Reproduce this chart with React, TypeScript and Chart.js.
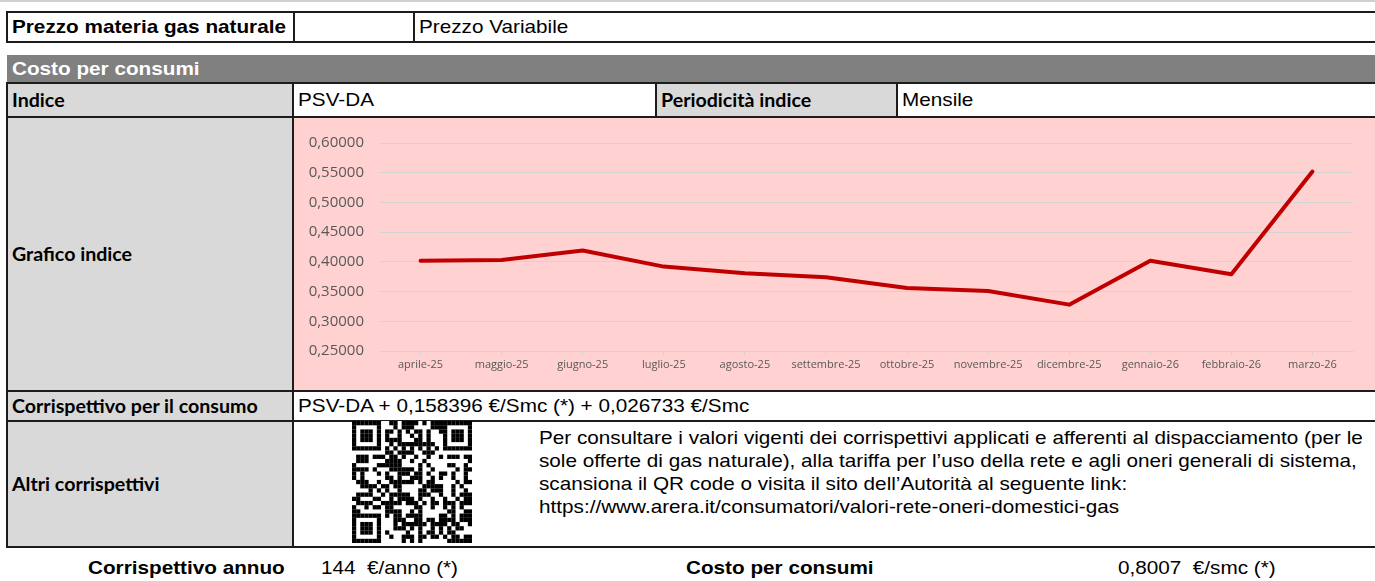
import React, { useEffect, useRef } from "react";
import { Chart, registerables } from "chart.js";

Chart.register(...registerables);

const categories = [
  "aprile-25", "maggio-25", "giugno-25", "luglio-25", "agosto-25", "settembre-25",
  "ottobre-25", "novembre-25", "dicembre-25", "gennaio-26", "febbraio-26", "marzo-26",
];
const psvValues = [0.402, 0.403, 0.419, 0.392, 0.381, 0.374, 0.356, 0.351, 0.328, 0.402, 0.379, 0.552];
const yMin = 0.25;
const yMax = 0.6;
const yStep = 0.05;

const infoLines = [
  "Per consultare i valori vigenti dei corrispettivi applicati e afferenti al dispacciamento (per le",
  "sole offerte di gas naturale), alla tariffa per l’uso della rete e agli oneri generali di sistema,",
  "scansiona il QR code o visita il sito dell’Autorità al seguente link:",
  "https://www.arera.it/consumatori/valori-rete-oneri-domestici-gas",
];

const ARIAL = "'Liberation Sans', Arial, sans-serif";
const CALIBRI = "Lato, 'Open Sans', sans-serif";
const GRAY = "#d9d9d9";
const PINK = "#ffd1d1";
const SX = 1.09;

function IndexChart() {
  const ref = useRef<HTMLCanvasElement | null>(null);
  useEffect(() => {
    if (!ref.current) return;
    const chart = new Chart(ref.current, {
      type: "line",
      data: {
        labels: categories,
        datasets: [
          {
            data: psvValues,
            borderColor: "#c00000",
            borderWidth: 4,
            pointRadius: 0,
            tension: 0,
            borderCapStyle: "round",
            borderJoinStyle: "round",
            fill: false,
          },
        ],
      },
      options: {
        animation: false,
        responsive: true,
        maintainAspectRatio: false,
        layout: { padding: { top: 24, right: 22, left: 0, bottom: 0 } },
        plugins: { legend: { display: false }, tooltip: { enabled: false } },
        scales: {
          x: {
            offset: true,
            grid: { display: true, drawOnChartArea: false, drawTicks: true, tickLength: 4, color: "#d4d4d4" },
            border: { display: true, color: "#d4d4d4", width: 1 },
            ticks: {
              color: "#595959",
              font: { family: "'Open Sans'", size: 11 },
              padding: 3,
              maxRotation: 0,
              autoSkip: false,
            },
            afterFit: (s: any) => { s.height = 39; },
          },
          y: {
            min: yMin,
            max: yMax,
            grid: { color: "#d4d4d4", drawTicks: false, lineWidth: 1 },
            border: { display: false },
            ticks: {
              stepSize: yStep,
              color: "#595959",
              font: { family: "'Open Sans'", size: 15 },
              padding: 16,
              callback: (v: any) => Number(v).toFixed(5).replace(".", ","),
            },
            afterFit: (s: any) => { s.width = 86; },
          },
        },
      },
    });
    return () => chart.destroy();
  }, []);
  return <canvas ref={ref} />;
}

function QR() {
  const n = 29;
  const cells: React.ReactElement[] = [];
  const finder = (r: number, c: number, or: number, oc: number) => {
    const rr = r - or, cc = c - oc;
    if (rr < 0 || rr > 6 || cc < 0 || cc > 6) return null;
    if (rr === 0 || rr === 6 || cc === 0 || cc === 6) return true;
    if (rr >= 2 && rr <= 4 && cc >= 2 && cc <= 4) return true;
    return false;
  };
  for (let r = 0; r < n; r++) {
    for (let c = 0; c < n; c++) {
      let on: boolean | null = null;
      for (const [or, oc] of [[0, 0], [0, n - 7], [n - 7, 0]]) {
        const f = finder(r, c, or, oc);
        if (f !== null) on = f;
      }
      if (on === null) {
        if ((r === 7 && (c < 8 || c > n - 9)) || (c === 7 && (r < 8 || r > n - 9))) on = false;
        else if (r === 6 || c === 6) on = (r + c) % 2 === 0;
        else {
          let h = (r * 73856093) ^ (c * 19349663) ^ 0x5bd1e995;
          h = ((h >>> 13) ^ h) * 1274126177;
          on = ((h >>> 7) & 7) < 4;
        }
      }
      if (on) cells.push(<rect key={r * n + c} x={c} y={r} width={1.02} height={1.02} fill="#000" />);
    }
  }
  return (
    <svg width={120} height={122} viewBox={`0 0 ${n} ${n}`} preserveAspectRatio="none" style={{ position: "absolute", left: 352, top: 421 }}>
      <rect x={0} y={0} width={n} height={n} fill="#fff" />
      {cells}
    </svg>
  );
}

type CellProps = {
  x1: number; x2: number; y1: number; y2: number;
  bg?: string; children?: React.ReactNode; font?: string; bold?: boolean; size?: number;
  color?: string; border?: boolean; padLeft?: number;
};

function Stretch({ children, style }: { children: React.ReactNode; style?: React.CSSProperties }) {
  return (
    <span style={{ display: "inline-block", transform: `scaleX(${SX})`, transformOrigin: "left center", whiteSpace: "pre", ...style }}>
      {children}
    </span>
  );
}

function Cell({ x1, x2, y1, y2, bg = "#fff", children, font = ARIAL, bold = false, size = 19, color = "#000", border = true, padLeft = 4 }: CellProps) {
  const b = border ? 2 : 0;
  return (
    <div
      style={{
        position: "absolute",
        left: x1 - b / 2,
        top: y1 - b / 2,
        width: x2 - x1 + b,
        height: y2 - y1 + b,
        boxSizing: "border-box",
        border: border ? "2px solid #1c1c1c" : "none",
        background: bg,
        display: "flex",
        alignItems: "center",
        paddingLeft: padLeft,
        fontFamily: font,
        fontWeight: bold ? 700 : 400,
        fontSize: size,
        color,
        whiteSpace: "nowrap",
        overflow: "hidden",
      }}
    >
      {children !== undefined ? <Stretch>{children}</Stretch> : null}
    </div>
  );
}

const bottomText = (left: number, text: string, bold: boolean) => (
  <div style={{ position: "absolute", top: 556, left, fontFamily: ARIAL, fontSize: 19, fontWeight: bold ? 700 : 400, lineHeight: "24px" }}>
    <Stretch>{text}</Stretch>
  </div>
);

export default function App() {
  const R = 1385;
  return (
    <div style={{ position: "fixed", left: 0, top: 0, width: 1375, height: 581, background: "#fff", overflow: "hidden" }}>
      <div style={{ position: "absolute", left: 0, top: 0, width: 1375, height: 2, background: "#d0d0d0" }} />

      <Cell x1={7} x2={294} y1={12} y2={42} bold>Prezzo materia gas naturale</Cell>
      <Cell x1={294} x2={414} y1={12} y2={42} />
      <Cell x1={414} x2={R} y1={12} y2={42}>Prezzo Variabile</Cell>

      <Cell x1={7} x2={R} y1={55} y2={83} bg="#808080" color="#fff" bold border={false} padLeft={5}>Costo per consumi</Cell>

      <Cell x1={7} x2={293} y1={83} y2={117} bg={GRAY} font={CALIBRI} bold size={18}>Indice</Cell>
      <Cell x1={293} x2={656} y1={83} y2={117}>PSV-DA</Cell>
      <Cell x1={656} x2={897} y1={83} y2={117} bg={GRAY} font={CALIBRI} bold size={18}>Periodicità indice</Cell>
      <Cell x1={897} x2={R} y1={83} y2={117}>Mensile</Cell>

      <Cell x1={7} x2={293} y1={117} y2={391} bg={GRAY} font={CALIBRI} bold size={18}>Grafico indice</Cell>
      <Cell x1={293} x2={R} y1={117} y2={391} bg={PINK} />
      <div style={{ position: "absolute", left: 294, top: 118, width: 1081, height: 272 }}>
        <IndexChart />
      </div>

      <Cell x1={7} x2={293} y1={391} y2={421} bg={GRAY} font={CALIBRI} bold size={18}>Corrispettivo per il consumo</Cell>
      <Cell x1={293} x2={R} y1={391} y2={421}>PSV-DA + 0,158396 €/Smc (*) + 0,026733 €/Smc</Cell>

      <Cell x1={7} x2={293} y1={421} y2={547} bg={GRAY} font={CALIBRI} bold size={18}>Altri corrispettivi</Cell>
      <Cell x1={293} x2={R} y1={421} y2={547} />
      <QR />
      <div style={{ position: "absolute", left: 539, top: 426, fontFamily: ARIAL, fontSize: 19, lineHeight: "23px", color: "#000", whiteSpace: "nowrap" }}>
        {infoLines.map((l, i) => <div key={i}><Stretch>{l}</Stretch></div>)}
      </div>

      {bottomText(88, "Corrispettivo annuo", true)}
      {bottomText(321, "144  €/anno (*)", false)}
      {bottomText(686, "Costo per consumi", true)}
      {bottomText(1118, "0,8007  €/smc (*)", false)}
    </div>
  );
}
